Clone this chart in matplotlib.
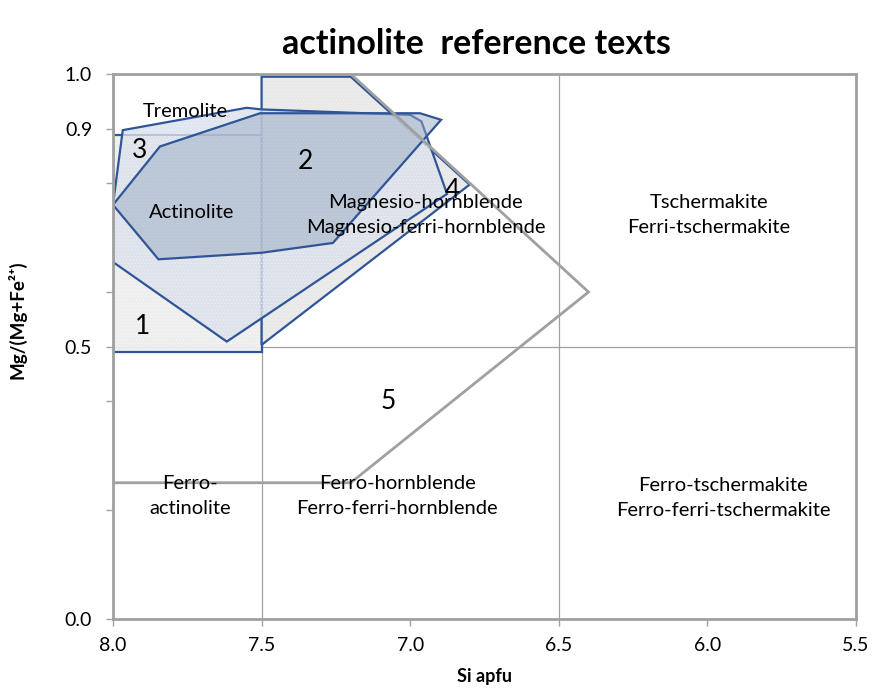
import matplotlib.pyplot as plt
from matplotlib.patches import Polygon

plt.rcParams['font.family'] = ['Lato', 'DejaVu Sans']
plt.rcParams['hatch.linewidth'] = 0.4

# polygon outlines (Si apfu, Mg/(Mg+Fe2+))
rect1_x = [8.0, 7.5, 7.5, 8.0]
rect1_y = [0.49, 0.49, 0.888, 0.888]

field2_x = [7.5, 7.5, 7.2, 6.8]
field2_y = [0.503, 0.995, 0.995, 0.797]

field3_x = [8.0, 7.617, 6.876, 6.962, 7.0, 7.5, 7.55, 7.967, 8.0]
field3_y = [0.655, 0.509, 0.78, 0.913, 0.925, 0.935, 0.938, 0.897, 0.76]

actin_x = [8.0, 7.842, 7.505, 6.967, 6.896, 7.26, 7.5, 7.847]
actin_y = [0.76, 0.867, 0.928, 0.928, 0.916, 0.69, 0.672, 0.66]

field5_x = [8.0, 7.2, 6.4, 7.2, 8.0]
field5_y = [1.0, 1.0, 0.6, 0.25, 0.25]

# text labels
names = ['Tremolite', 'Actinolite', 'Magnesio-hornblende\nMagnesio-ferri-hornblende',
         'Tschermakite\nFerri-tschermakite', 'Ferro-\nactinolite',
         'Ferro-hornblende\nFerro-ferri-hornblende',
         'Ferro-tschermakite\nFerro-ferri-tschermakite']
names_x = [7.758, 7.734, 6.947, 5.995, 7.741, 7.044, 5.947]
names_y = [0.932, 0.745, 0.741, 0.741, 0.226, 0.226, 0.222]

nums = ['1', '2', '3', '4', '5']
nums_x = [7.899, 7.354, 7.912, 6.859, 7.075]
nums_y = [0.536, 0.839, 0.859, 0.787, 0.40]

blue = '#2F5597'
grey = '#A0A0A0'

fig = plt.figure(figsize=(8.75, 6.91), dpi=100)
ax = fig.add_axes([0.1291, 0.1042, 0.8492, 0.7887])

# grid lines
for gx in [7.5, 6.5]:
    ax.axvline(gx, color=grey, lw=0.9, zorder=0.5)
ax.axhline(0.5, color=grey, lw=0.9, zorder=0.5)


def field(xs, ys, face, alpha, hatch_col, z):
    pts = list(zip(xs, ys))
    ax.add_patch(Polygon(pts, closed=True, facecolor=face, alpha=alpha,
                         edgecolor='none', zorder=z))
    ax.add_patch(Polygon(pts, closed=True, fill=False, hatch='.....',
                         edgecolor=hatch_col, lw=0, zorder=z))
    ax.add_patch(Polygon(pts, closed=True, fill=False, edgecolor=blue,
                         lw=1.6, zorder=z))


field(rect1_x, rect1_y, '#EDEDED', 0.9, '#F7F7F7', 1)
field(field2_x, field2_y, '#E4E4E4', 0.8, '#F2F2F2', 2)
field(field3_x, field3_y, '#D9E0EB', 0.8, '#EEF1F6', 3)
ax.add_patch(Polygon(list(zip(actin_x, actin_y)), closed=True, facecolor='#9AABC4',
                     alpha=0.5, edgecolor='none', zorder=4))
ax.add_patch(Polygon(list(zip(actin_x, actin_y)), closed=True, fill=False,
                     edgecolor=blue, lw=1.6, zorder=4))
ax.add_patch(Polygon(list(zip(field5_x, field5_y)), closed=True, fill=False,
                     edgecolor=grey, lw=2, zorder=5))

for t, x, y in zip(names, names_x, names_y):
    ax.text(x, y, t, ha='center', va='center', fontsize=14.5, linespacing=1.55,
            zorder=6)
for t, x, y in zip(nums, nums_x, nums_y):
    ax.text(x, y, t, ha='center', va='center', fontsize=19, zorder=6)

ax.set_xlim(8.0, 5.5)
ax.set_ylim(0.0, 1.0)
ax.set_xticks([8.0, 7.5, 7.0, 6.5, 6.0, 5.5])
ax.set_xticklabels(['8.0', '7.5', '7.0', '6.5', '6.0', '5.5'])
ax.set_yticks([0.0, 0.2, 0.4, 0.5, 0.6, 0.8, 0.9, 1.0])
ax.set_yticklabels(['0.0', '', '', '0.5', '', '', '0.9', '1.0'])
ax.tick_params(axis='both', labelsize=14, color=grey, length=5, width=1)
ax.tick_params(axis='x', pad=8)
ax.tick_params(axis='y', pad=10)

for s in ax.spines.values():
    s.set_color(grey)
    s.set_linewidth(2)
    s.set_zorder(7)

ax.set_xlabel('Si apfu', fontsize=13, fontweight='bold', labelpad=10)
ax.set_ylabel('Mg/(Mg+Fe²⁺)', fontsize=13.5, fontweight='bold')
ax.yaxis.set_label_coords(-0.117, 0.549)
fig.text(0.544, 0.936, 'actinolite  reference texts', ha='center', va='center',
         fontsize=24.5, fontweight='bold')

fig.savefig('out.png', dpi=100)
